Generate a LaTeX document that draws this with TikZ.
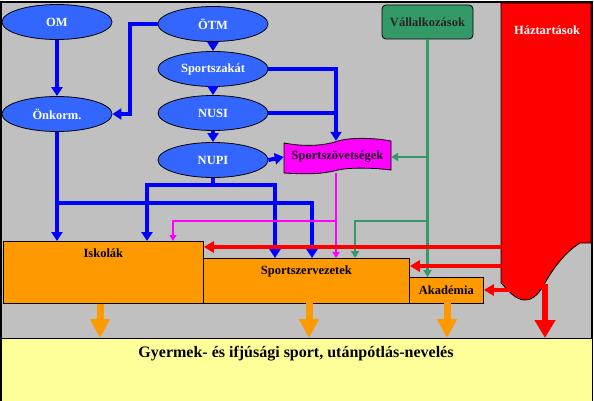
\documentclass[tikz,border=0pt]{standalone}
\usepackage{fontspec}
\setmainfont{Liberation Serif}
\usetikzlibrary{arrows.meta,shapes.geometric,calc}
\definecolor{bgray}{HTML}{C0C0C0}
\definecolor{ellblue}{HTML}{3366FF}
\definecolor{lineblue}{HTML}{0000FF}
\definecolor{orng}{HTML}{FF9900}
\definecolor{grn}{HTML}{339966}
\definecolor{mgnt}{HTML}{FF00FF}
\definecolor{rd}{HTML}{FF0000}
\definecolor{ylw}{HTML}{FFFF99}
\tikzset{
  ell/.style={ellipse, draw=black, line width=0.8pt, fill=ellblue, minimum width=110pt, minimum height=35pt, inner sep=0pt, text=white, font=\fontsize{12.5}{14}\selectfont\bfseries},
  orbox/.style={rectangle, draw=black, line width=0.8pt, fill=orng, inner sep=0pt},
  lbl/.style={font=\fontsize{12.5}{14}\selectfont\bfseries, text=black},
  bl/.style={draw=lineblue, line width=4pt, -{Triangle[width=11pt,length=9pt]}},
  blnoarr/.style={draw=lineblue, line width=4pt},
  gr/.style={draw=grn, line width=2.5pt, -{Triangle[width=8pt,length=7pt]}},
  grnoarr/.style={draw=grn, line width=2.5pt},
  mg/.style={draw=mgnt, line width=2pt, -{Triangle[width=7pt,length=6pt]}},
  mgnoarr/.style={draw=mgnt, line width=2pt},
  rdarr/.style={draw=rd, line width=4pt, -{Triangle[width=11pt,length=10pt]}},
  rdbig/.style={draw=rd, line width=6pt, -{Triangle[width=20pt,length=18pt]}},
  orarr/.style={draw=orng, line width=7pt, -{Triangle[width=19pt,length=19pt]}},
}
\begin{document}
\begin{tikzpicture}[x=1pt,y=-1pt]
\useasboundingbox (0,0) rectangle (594,401);
% backgrounds
\fill[bgray] (1,2) rectangle (592,338);
\draw[black, line width=1.2pt] (1,338) |- (592,2) -- (592,338);
\fill[ylw] (1,338) rectangle (592,401);
\draw[black, line width=1pt] (1,401) -- (1,338) -- (592,338) -- (592,401);
\fill[black] (0,338) rectangle (2,401);

% Haztartasok
\draw[black, line width=0.8pt, fill=rd] (501,3) -- (591,3) -- (591,243) -- (580,243)
  .. controls (565,252) and (552,270) .. (545,283)
  .. controls (540,292) and (534,300) .. (525,300)
  .. controls (515,300) and (508,290) .. (501,283) -- cycle;
\node[font=\fontsize{12.5}{14}\selectfont\bfseries, text=white] (hazt) at (547,30) {Háztartások};
\coordinate (h1) at (501,247);
\coordinate (h2) at (501,266);
\coordinate (h3) at (512,290);
\coordinate (h4) at (545,284);

% ellipses
\node[ell] (om) at (57,22) {OM};
\node[ell] (onk) at (57,114) {Önkorm.};
\node[ell] (otm) at (213,24) {ÖTM};
\node[ell] (szak) at (213,69) {Sportszakát};
\node[ell] (nusi) at (213,113) {NUSI};
\node[ell] (nupi) at (213,160) {NUPI};

% Vallalkozasok
\node[rectangle, rounded corners=4pt, draw=black, line width=0.8pt, fill=grn, minimum width=91pt, minimum height=34pt, inner sep=0pt, font=\fontsize{12.5}{14}\selectfont\bfseries, text=black!85] (vall) at (427.5,22) {Vállalkozások};

% Sportszovetsegek flag
\draw[black, line width=0.8pt, fill=mgnt] (284,143)
  .. controls (300,146) and (320,147) .. (338,141)
  .. controls (352,137) and (375,138) .. (391,141) -- (391,170)
  .. controls (375,168) and (352,167) .. (338,170)
  .. controls (320,175) and (300,174) .. (284,173) -- cycle;
\node[rectangle, minimum width=107pt, minimum height=32pt, inner sep=0pt, font=\fontsize{12.5}{14}\selectfont, text=black!90!mgnt] (szov) at (337.5,157) {\textbf{Sportszövetségek}};

% blue connectors
\draw[bl] (om) -- (onk);
\draw[bl] (otm.west) -- ++(-28,0) |- (onk.east);
\draw[bl] (otm) -- (szak);
\draw[bl] (szak) -- (nusi);
\draw[bl] (nusi) -- (nupi);
\draw[bl] (szak.east) -| ([xshift=-1.5pt]szov.north);
\draw[blnoarr] (nusi.east) -- (337.5,113);
\draw[bl] (nupi.east) -- (szov.west);

% orange boxes
\node[orbox, minimum width=200pt, minimum height=62pt, anchor=north west,
  label={[lbl, anchor=north, yshift=-4pt]north:Iskolák}] (isk) at (3,241) {};
\node[orbox, minimum width=206pt, minimum height=45pt, anchor=north west,
  label={[lbl, anchor=north, yshift=-4pt]north:Sportszervezetek}] (szerv) at (203,258) {};
\node[orbox, minimum width=74pt, minimum height=26pt, anchor=north west, font=\fontsize{12.5}{14}\selectfont\bfseries] (akad) at (409,277) {Akadémia};

% blue to boxes
\draw[bl] (onk.south) -- (onk.south |- isk.north);
\draw[bl] (57,203) -| (312,258);
\draw[blnoarr] (nupi.south) -- (213,185);
\draw[bl] (147,185) -- (147,241);
\draw[bl] (145,185) -| (275,258);

% magenta
\draw[mg] ([xshift=-1.5pt]szov.south) -- (336,258);
\draw[mg] (336,221) -| (173,241);

% green
\draw[gr] (vall.south) -- (vall.south |- akad.north);
\draw[gr] (427.5,157) -- (szov.east);
\draw[gr] (427.5,221) -| (355,258);

% red
\draw[rdarr] (h1) -- (isk.north east |- h1);
\draw[rdarr] (h2) -- (szerv.east |- h2);
\draw[rdarr] (h3) -- (akad.east |- h3);
\draw[rdbig] (h4) -- (545,338);

% orange arrows
\draw[orarr] (isk.south -| 100,0) -- (100,338);
\draw[orarr] (309,303) -- (309,338);
\draw[orarr] (447,303) -- (447,338);

% bottom text
\node[font=\fontsize{16}{18}\selectfont\bfseries, text=black] (gyer) at (296,354) {Gyermek- és ifjúsági sport, utánpótlás-nevelés};
\end{tikzpicture}
\end{document}
